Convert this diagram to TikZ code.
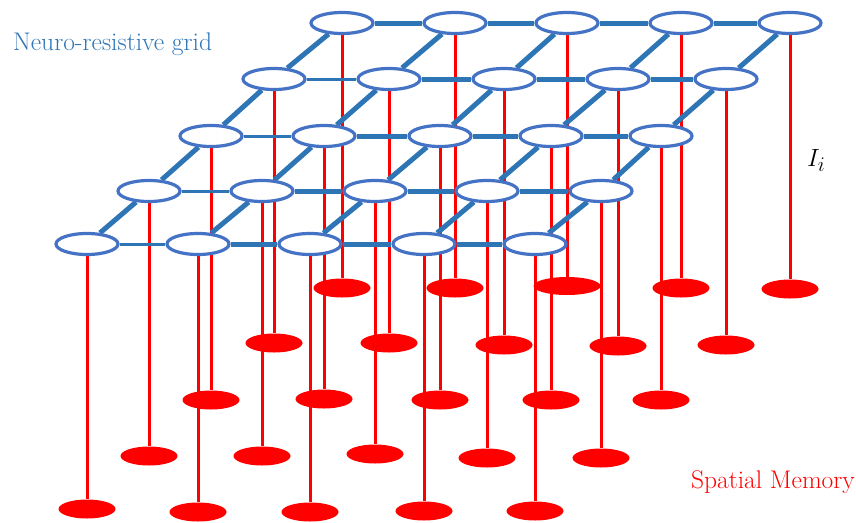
\documentclass[tikz,border=0pt]{standalone}
\usetikzlibrary{shapes.geometric}
\definecolor{ellblue}{HTML}{4472C4}
\definecolor{linkblue}{HTML}{2E75B6}
\pgfdeclarelayer{redlayer}
\pgfdeclarelayer{bluelayer}
\pgfsetlayers{redlayer,bluelayer,main}
\begin{document}
\begin{tikzpicture}[x=1pt,y=-1pt,
 cell/.style={ellipse, draw=ellblue, line width=3.2pt, fill=white, minimum width=62pt, minimum height=21pt, inner sep=0pt},
 mem/.style={ellipse, fill=red, minimum width=57pt, minimum height=19pt, inner sep=0pt},
 wire/.style={red, line width=3pt},
 link/.style={linkblue, line width=5pt},
 lbl/.style={font=\fontsize{25.5}{30}\selectfont, inner sep=0pt, anchor=base west}]
\useasboundingbox (0,0) rectangle (856,522);
% blue cells
\node[cell] (b01) at (342,23) {};
\node[cell] (b02) at (455,23) {};
\node[cell] (b03) at (567,23) {};
\node[cell] (b04) at (681,23) {};
\node[cell] (b05) at (790,23) {};
\node[cell] (b11) at (274,79) {};
\node[cell] (b12) at (389,79) {};
\node[cell] (b13) at (504,79) {};
\node[cell] (b14) at (618,79) {};
\node[cell] (b15) at (726,79) {};
\node[cell] (b21) at (211,136) {};
\node[cell] (b22) at (324,136) {};
\node[cell] (b23) at (440,136) {};
\node[cell] (b24) at (551,136) {};
\node[cell] (b25) at (661,136) {};
\node[cell] (b31) at (149,191) {};
\node[cell] (b32) at (262,191) {};
\node[cell] (b33) at (375,191) {};
\node[cell] (b34) at (487,191) {};
\node[cell] (b35) at (601,191) {};
\node[cell] (b41) at (87,244) {};
\node[cell] (b42) at (198,244) {};
\node[cell] (b43) at (310,244) {};
\node[cell] (b44) at (424,244) {};
\node[cell] (b45) at (535,244) {};
% red memory cells
\node[mem] (m01) at (342,288) {};
\node[mem] (m02) at (455,288) {};
\node[mem, minimum width=67pt, minimum height=18pt] (m03) at (567,286) {};
\node[mem] (m04) at (681,288) {};
\node[mem] (m05) at (790,289) {};
\node[mem] (m11) at (274,343) {};
\node[mem] (m12) at (389,343) {};
\node[mem] (m13) at (504,345) {};
\node[mem] (m14) at (618,346) {};
\node[mem] (m15) at (726,345) {};
\node[mem] (m21) at (211,400) {};
\node[mem] (m22) at (324,399) {};
\node[mem] (m23) at (440,400) {};
\node[mem] (m24) at (551,400) {};
\node[mem] (m25) at (661,400) {};
\node[mem] (m31) at (149,456) {};
\node[mem] (m32) at (262,456) {};
\node[mem] (m33) at (375,454) {};
\node[mem] (m34) at (487,458) {};
\node[mem] (m35) at (601,458) {};
\node[mem] (m41) at (87,509) {};
\node[mem] (m42) at (198,512) {};
\node[mem] (m43) at (310,512) {};
\node[mem] (m44) at (424,511) {};
\node[mem] (m45) at (535,511) {};
% red wires
\begin{pgfonlayer}{redlayer}
\foreach \r in {0,...,4}{
  \foreach \c in {1,...,5}{
    \draw[wire] (b\r\c) -- (m\r\c);
  }
}
\end{pgfonlayer}
% blue links
\begin{pgfonlayer}{bluelayer}
\foreach \r in {0,...,4}{
  \foreach \c [evaluate=\c as \n using int(\c+1)] in {1,...,4}{
    \pgfmathsetmacro\w{(\r>0 && \c==1) ? 3 : 5}
    \draw[link, line width=\w pt] (b\r\c) -- (b\r\n);
  }
}
\foreach \r [evaluate=\r as \p using int(\r-1)] in {1,...,4}{
  \foreach \c in {1,...,5}{
    \draw[link] (b\r\c) -- (b\p\c);
  }
}
\end{pgfonlayer}
% labels
\node[lbl, text=linkblue] (title) at (13,50) {Neuro-resistive grid};
\node[lbl, text=red, anchor=base east] (memlbl) at (855,488) {Spatial Memory};
\node[lbl, font=\fontsize{29}{34}\selectfont] (cur) at (807,166) {$I_i$};
\end{tikzpicture}
\end{document}
